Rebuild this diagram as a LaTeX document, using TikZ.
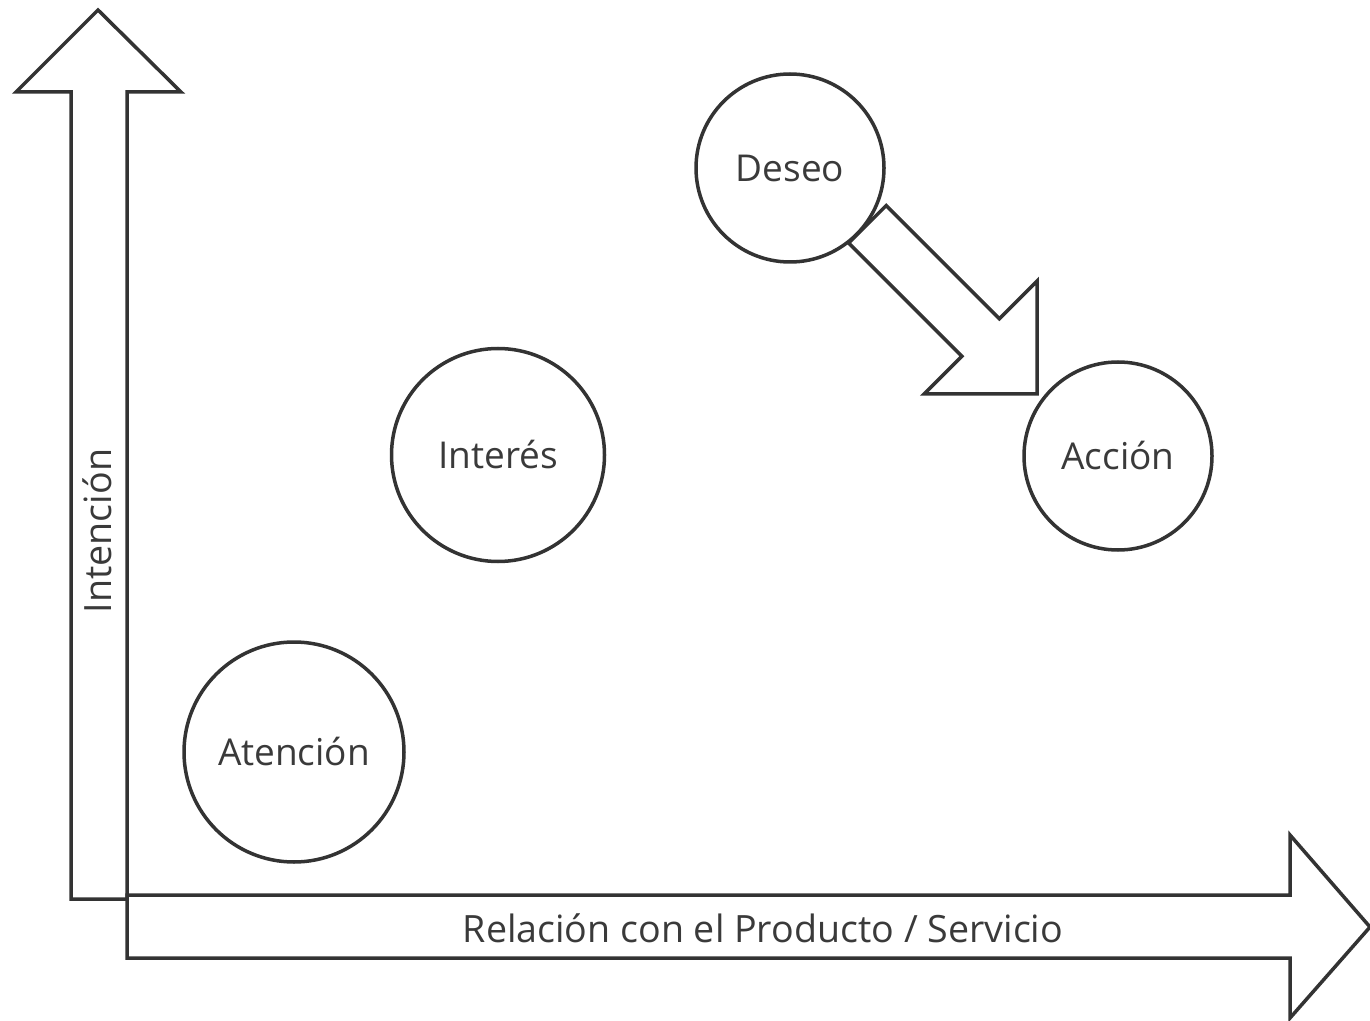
\documentclass[tikz,border=0pt]{standalone}
\usepackage{fontspec}
\setmainfont{Open Sans}
\usepackage{xcolor}
\usetikzlibrary{backgrounds}

\definecolor{linegray}{RGB}{51,51,51}
\definecolor{textgray}{RGB}{58,58,58}

\tikzset{
  fatline/.style={draw=linegray, line width=1.75pt, line join=miter, fill=white},
  stage/.style={circle, draw=linegray, line width=1.75pt, fill=white, inner sep=0pt,
    text=textgray, font=\fontsize{18.5}{21}\selectfont},
  axislabel/.style={inner sep=0.75pt, text=textgray, font=\fontsize{18.8}{21}\selectfont},
}

\begin{document}
\begin{tikzpicture}[x=0.5pt,y=0.5pt,yscale=-1,xscale=1]
\useasboundingbox (0,0) rectangle (1370,1021);

%Up Arrow
\draw [fatline] (71,899) -- (71,92) -- (16,92) -- (98,10) -- (181,92) -- (127,92) -- (127,899) -- cycle ;
%Right Arrow
\draw [fatline] (127,895) -- (1290,895) -- (1290,835) -- (1370,927) -- (1290,1018) -- (1290,958) -- (127,958) -- cycle ;

% Circles
\node [stage, minimum size=110pt] (atencion) at (294,752) {Atención};
\node [stage, minimum size=106.5pt] (interes) at (498,455) {Interés};
\node [stage, minimum size=94pt] (deseo) at (790,168) {Deseo};
\node [stage, minimum size=94pt] (accion) at (1118,456) {Acción};

%Block Arrow deseo to accion
\begin{scope}[on background layer, shift={(deseo.-36)}, rotate=45]
\draw [fatline] (0,-26.5) -- (160,-26.5) -- (160,-80) -- (240,0) -- (160,80) -- (160,26.5) -- (0,26.5) -- cycle ;
\end{scope}

% Text Node
\node [axislabel] (relacion) at (763,928) {Relación con el Producto / Servicio};
% Text Node
\node [axislabel, rotate=90] (intencion) at (97,531) {Intención};

\end{tikzpicture}
\end{document}
